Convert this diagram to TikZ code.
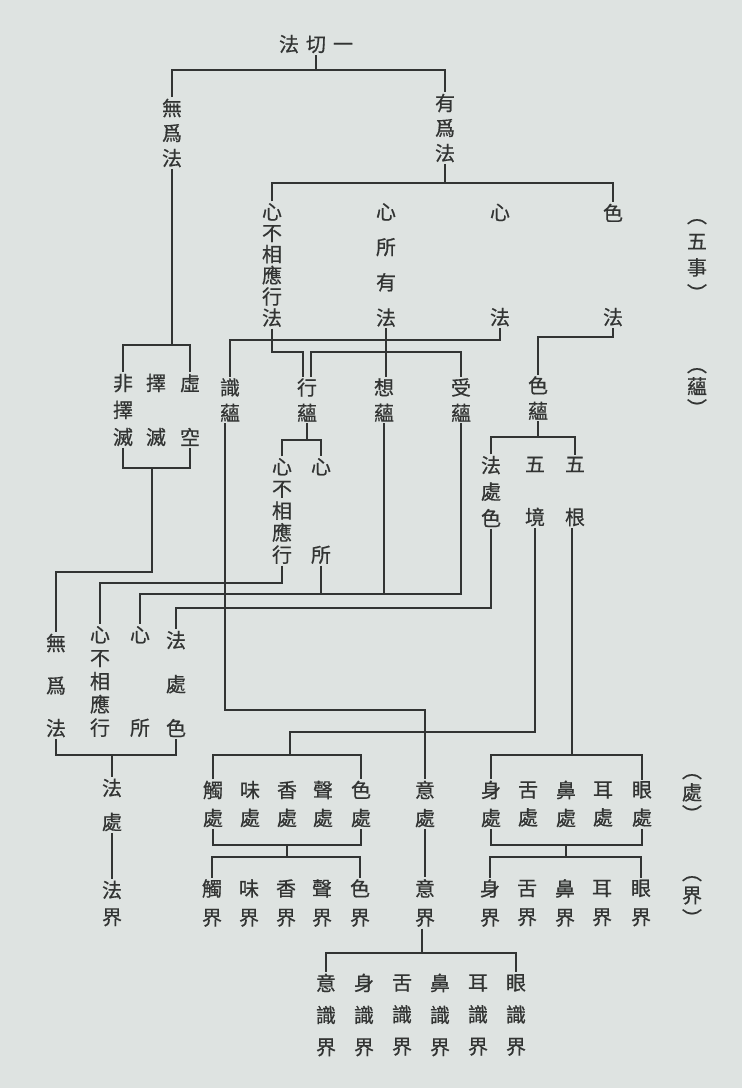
\documentclass[tikz,border=0pt]{standalone}
\usepackage{fontspec}
\newfontfamily\cjk[FakeBold=0.6]{Noto Sans CJK TC}
\definecolor{paper}{RGB}{222,227,225}
\definecolor{ink}{RGB}{50,52,51}
\begin{document}
\begin{tikzpicture}[x=1pt,y=-1pt,
  vt/.style={font=\cjk\fontsize{20}{#1}\selectfont, align=center, inner xsep=0pt, inner ysep=1.5pt, text=ink},
  vt/.default=26,
  ln/.style={draw=ink, line width=1.3pt}]
\fill[paper] (0,0) rectangle (742,1088);
\useasboundingbox (0,0) rectangle (742,1088);

% level 0 / 1
\node[vt] (top) at (316,44) {法\hspace{7pt}切\hspace{7pt}一};
\node[vt=25] (wuwei) at (172,133) {無\\爲\\法};
\node[vt=25] (youwei) at (445,128) {有\\爲\\法};

% five things
\node[vt=21.2] (xbxyf) at (272,265) {心\\不\\相\\應\\行\\法};
\node[vt=35.3] (xsyf) at (386,265) {心\\所\\有\\法};
\node[vt=105] (xf) at (500,265) {心\\法};
\node[vt=104] (sf) at (613,265) {色\\法};

% skandhas
\node[vt=25.5] (shiyun) at (230,400) {識\\蘊};
\node[vt=25.5] (xingyun) at (307,400) {行\\蘊};
\node[vt=25.5] (xiangyun) at (384,400) {想\\蘊};
\node[vt=25.5] (shouyun) at (461,400) {受\\蘊};
\node[vt=25.5] (seyun) at (538,398) {色\\蘊};

% unconditioned
\node[vt=27] (feizemie) at (123,410) {非\\擇\\滅};
\node[vt=54] (zemie) at (156,410) {擇\\滅};
\node[vt=54] (xukong) at (190,410) {虛\\空};

% second split
\node[vt=22] (xbxy2) at (282,511) {心\\不\\相\\應\\行};
\node[vt=88] (xs2) at (321,511) {心\\所};
\node[vt=26.5] (fcs1) at (491,491.5) {法\\處\\色};
\node[vt=53] (wujing) at (535,491.5) {五\\境};
\node[vt=53] (wugen) at (575,491.5) {五\\根};

% dharma-ayatana group
\node[vt=42.5] (wuwei2) at (56,685.5) {無\\爲\\法};
\node[vt=23.25] (xbxy3) at (100,681.5) {心\\不\\相\\應\\行};
\node[vt=93] (xs3) at (140,681.5) {心\\所};
\node[vt=44] (fcs2) at (176,684) {法\\處\\色};
\node[vt=34] (fachu) at (112,805) {法\\處};
\node[vt=27] (fajie) at (112,903.5) {法\\界};

% ayatanas
\node[vt=28] (chuchu) at (213,804) {觸\\處};
\node[vt=28] (weichu) at (250,804) {味\\處};
\node[vt=28] (xiangchu) at (287,804) {香\\處};
\node[vt=28] (shengchu) at (323,804) {聲\\處};
\node[vt=28] (sechu) at (361,804) {色\\處};
\node[vt=28] (yichu) at (425,804) {意\\處};
\node[vt=28] (shenchu) at (491,804) {身\\處};
\node[vt=28] (shechu) at (528,804) {舌\\處};
\node[vt=28] (bichu) at (566,804) {鼻\\處};
\node[vt=28] (erchu) at (603,804) {耳\\處};
\node[vt=28] (yanchu) at (642,804) {眼\\處};

% dhatus
\node[vt=29] (chujie) at (212,903) {觸\\界};
\node[vt=29] (weijie) at (249,903) {味\\界};
\node[vt=29] (xiangjie) at (286,903) {香\\界};
\node[vt=29] (shengjie) at (322,903) {聲\\界};
\node[vt=29] (sejie) at (360,903) {色\\界};
\node[vt=29] (yijie) at (425,903) {意\\界};
\node[vt=29] (shenjie) at (490,903) {身\\界};
\node[vt=29] (shejie) at (527,903) {舌\\界};
\node[vt=29] (bijie) at (565,903) {鼻\\界};
\node[vt=29] (erjie) at (602,903) {耳\\界};
\node[vt=29] (yanjie) at (641,903) {眼\\界};

% consciousness dhatus
\node[vt=32] (yishi) at (326,1015) {意\\識\\界};
\node[vt=32] (shenshi) at (364,1015) {身\\識\\界};
\node[vt=32] (sheshi) at (402,1015) {舌\\識\\界};
\node[vt=32] (bishi) at (440,1015) {鼻\\識\\界};
\node[vt=32] (ershi) at (478,1015) {耳\\識\\界};
\node[vt=32] (yanshi) at (516,1015) {眼\\識\\界};

% side labels
\node[vt=26] (lwushi) at (697,260) {︵\\五\\事\\︶};
\node[vt=22] (lyun) at (697,392) {︵\\蘊\\︶};
\node[vt=22] (lchu) at (692,798) {︵\\處\\︶};
\node[vt=23] (ljie) at (692,901) {︵\\界\\︶};

% bar levels
\coordinate (b0) at (0,70);
\coordinate (b1) at (0,183);
\coordinate (b2) at (0,340);
\coordinate (b3) at (0,337);
\coordinate (b4) at (0,352);
\coordinate (b6) at (0,345);
\coordinate (b7) at (0,468);
\coordinate (b8) at (0,572);
\coordinate (b9) at (0,440);
\coordinate (b10) at (0,437);
\coordinate (b11) at (0,583);
\coordinate (b12) at (0,594);
\coordinate (b13) at (0,608);
\coordinate (b14) at (0,710);
\coordinate (b15) at (0,732);
\coordinate (b16) at (0,755);
\coordinate (b17) at (0,845);
\coordinate (b18) at (0,857);
\coordinate (b19) at (0,755);
\coordinate (b20) at (0,953);

% connectors
\draw[ln] (top.south) -- (top.south |- b0);
\draw[ln] (wuwei.north) -- (wuwei.north |- b0) -- (youwei.north |- b0) -- (youwei.north);

\draw[ln] (youwei.south) -- (youwei.south |- b1);
\draw[ln] (xbxyf.north) -- (xbxyf.north |- b1) -- (sf.north |- b1) -- (sf.north);

\draw[ln] (xf.south) -- (xf.south |- b2) -- (shiyun.north |- b2) -- (shiyun.north);
\draw[ln] (sf.south) -- (sf.south |- b3) -- (seyun.north |- b3) -- (seyun.north);
\draw[ln] (xbxyf.south) -- (xbxyf.south |- b4) -- ([xshift=-4pt]xingyun.north |- b4) -- ([xshift=-4pt]xingyun.north);
\draw[ln] (xsyf.south) -- (xsyf.south |- xiangyun.north);
\draw[ln] ([xshift=4pt]xingyun.north) -- ([xshift=4pt]xingyun.north |- b4) -- (shouyun.north |- b4) -- (shouyun.north);

\draw[ln] (wuwei.south) -- (wuwei.south |- b6);
\draw[ln] (feizemie.north) -- (feizemie.north |- b6) -- (xukong.north |- b6) -- (xukong.north);
\draw[ln] (feizemie.south) -- (feizemie.south |- b7) -- (xukong.south |- b7) -- (xukong.south);
\draw[ln] ([xshift=-4pt]zemie.south |- b7) -- ([xshift=-4pt]zemie.south |- b8) -- (wuwei2.north |- b8) -- (wuwei2.north);

\draw[ln] (xingyun.south) -- (xingyun.south |- b9);
\draw[ln] (xbxy2.north) -- (xbxy2.north |- b9) -- (xs2.north |- b9) -- (xs2.north);
\draw[ln] (seyun.south) -- (seyun.south |- b10);
\draw[ln] (fcs1.north) -- (fcs1.north |- b10) -- (wugen.north |- b10) -- (wugen.north);

\draw[ln] (xbxy2.south) -- (xbxy2.south |- b11) -- (xbxy3.north |- b11) -- (xbxy3.north);
\draw[ln] (shouyun.south) -- (shouyun.south |- b12) -- (xs3.north |- b12) -- (xs3.north);
\draw[ln] (xiangyun.south) -- (xiangyun.south |- b12);
\draw[ln] (xs2.south) -- (xs2.south |- b12);
\draw[ln] (fcs1.south) -- (fcs1.south |- b13) -- (fcs2.north |- b13) -- (fcs2.north);

\draw[ln] ([xshift=-5pt]shiyun.south) -- ([xshift=-5pt]shiyun.south |- b14) -- (yichu.north |- b14) -- (yichu.north);
\draw[ln] (wujing.south) -- (wujing.south |- b15) -- ([xshift=3pt]xiangchu.north |- b15) -- ([xshift=3pt]xiangchu.north |- b16);
\draw[ln] (chuchu.north) -- (chuchu.north |- b16) -- (sechu.north |- b16) -- (sechu.north);
\draw[ln] ([xshift=-3pt]wugen.south) -- ([xshift=-3pt]wugen.south |- b16);
\draw[ln] (shenchu.north) -- (shenchu.north |- b16) -- (yanchu.north |- b16) -- (yanchu.north);

\draw[ln] (chuchu.south) -- (chuchu.south |- b17) -- (sechu.south |- b17) -- (sechu.south);
\draw[ln] (xiangchu.south |- b17) -- (xiangchu.south |- b18);
\draw[ln] (chujie.north) -- (chujie.north |- b18) -- (sejie.north |- b18) -- (sejie.north);
\draw[ln] (yichu.south) -- (yijie.north);
\draw[ln] (shenchu.south) -- (shenchu.south |- b17) -- (yanchu.south |- b17) -- (yanchu.south);
\draw[ln] (bichu.south |- b17) -- (bichu.south |- b18);
\draw[ln] (shenjie.north) -- (shenjie.north |- b18) -- (yanjie.north |- b18) -- (yanjie.north);

\draw[ln] (wuwei2.south) -- (wuwei2.south |- b19) -- (fcs2.south |- b19) -- (fcs2.south);
\draw[ln] (fachu.north |- b19) -- (fachu.north);
\draw[ln] (fachu.south) -- (fajie.north);

\draw[ln] ([xshift=-3pt]yijie.south) -- ([xshift=-3pt]yijie.south |- b20);
\draw[ln] (yishi.north) -- (yishi.north |- b20) -- (yanshi.north |- b20) -- (yanshi.north);
\end{tikzpicture}
\end{document}
